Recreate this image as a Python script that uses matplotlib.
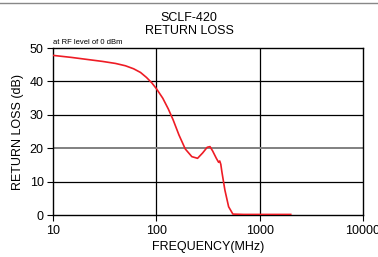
import matplotlib
matplotlib.use('Agg')
import matplotlib.pyplot as plt

plt.rcParams['font.family'] = ['Liberation Sans', 'DejaVu Sans']

# Return loss curve
freq = [10, 15, 20, 30, 40, 50, 60, 70, 80, 90, 100, 115, 130, 145, 165, 190, 220, 250,
        280, 310, 330, 350, 380, 400, 410, 420, 430, 460, 500, 550, 700, 1000, 1500, 2000]
rl = [47.8, 47.2, 46.7, 46.0, 45.4, 44.7, 43.8, 42.7, 41.2, 39.6, 37.8, 35.0, 31.8, 28.5,
      24.0, 19.8, 17.5, 17.0, 18.6, 20.3, 20.5, 19.2, 17.0, 15.8, 16.2, 15.2, 13.0, 7.5,
      2.5, 0.3, 0.2, 0.2, 0.2, 0.2]

x_ticks = [10, 100, 1000, 10000]
x_labels = ['10', '100', '1000', '10000']
y_ticks = [0, 10, 20, 30, 40, 50]

fig = plt.figure(figsize=(3.78, 2.57), dpi=100)
ax = fig.add_axes([0.141, 0.163, 0.819, 0.650])

ax.plot(freq, rl, color='#ee1c25', linewidth=1.2, zorder=3)

ax.set_xscale('log')
ax.set_xlim(10, 10000)
ax.set_ylim(0, 50)
ax.set_xticks(x_ticks)
ax.set_xticklabels(x_labels)
ax.set_yticks(y_ticks)
ax.minorticks_off()
ax.tick_params(labelsize=9, length=4, width=0.8, direction='out', pad=3)

# grid: black except the 20 dB line which is grey
for v in [100, 1000]:
    ax.axvline(v, color='black', linewidth=0.9, zorder=1)
for v in [10, 30, 40]:
    ax.axhline(v, color='black', linewidth=0.9, zorder=1)
ax.axhline(20, color='#808080', linewidth=1.4, zorder=1)

for s in ax.spines.values():
    s.set_linewidth(1.0)

ax.set_xlabel('FREQUENCY(MHz)', fontsize=9, labelpad=3)
ax.set_ylabel('RETURN LOSS (dB)', fontsize=9, labelpad=4)
fig.text(0.5, 0.955, 'SCLF-420\nRETURN LOSS', ha='center', va='top', fontsize=9,
         linespacing=1.2)
ax.text(0.0, 1.015, 'at RF level of 0 dBm', transform=ax.transAxes, fontsize=5.5,
        ha='left', va='bottom')

# thin grey rule across the top of the picture
fig.add_artist(plt.Line2D([0, 1], [0.988, 0.988], color='#888888', linewidth=1.0))

fig.savefig('out.png', dpi=100)
